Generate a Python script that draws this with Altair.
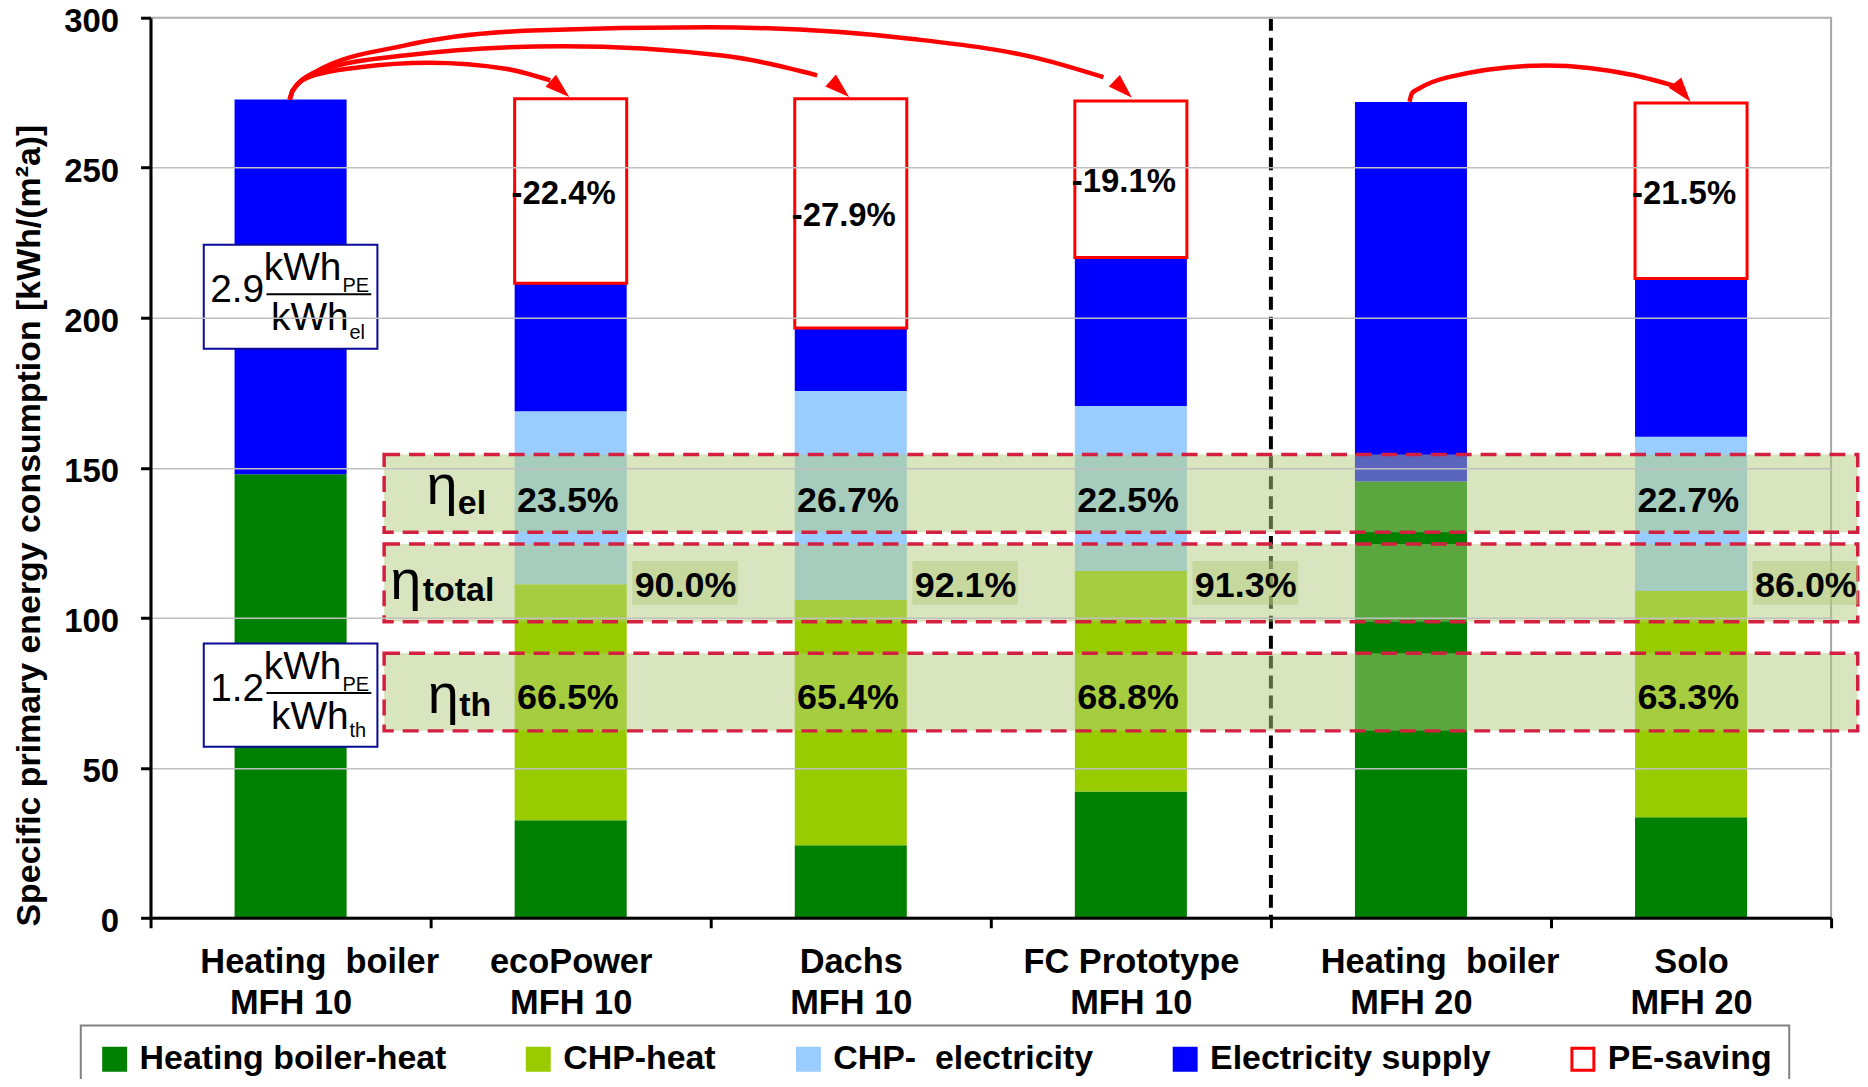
import json
import altair as alt
import pandas as pd

FONT = "Liberation Sans"
NB = "\u00a0"
ZW = "\u200b"

# ------------------------------------------------------------------ data
cat_line1 = [ZW + NB * 6 + "Heating" + NB * 2 + "boiler", "ecoPower", "Dachs", "FC Prototype",
             ZW + NB * 6 + "Heating" + NB * 2 + "boiler", "Solo"]
cat_line2 = ["MFH 10", "MFH 10", "MFH 10", "MFH 10", "MFH 20", "MFH 20"]

components = ["Heating boiler-heat", "CHP-heat", "CHP- electricity", "Electricity supply", "PE-saving"]
boiler_heat = [147.8, 32.5, 24.2, 42.1, 145.4, 33.5]
chp_heat = [0.0, 78.7, 81.7, 73.5, 0.0, 75.4]
chp_el = [0.0, 57.6, 69.7, 55.0, 0.0, 51.4]
elec_supply = [124.9, 42.7, 21.0, 49.5, 126.5, 52.8]
pe_saving = [0.0, 61.5, 76.4, 52.1, 0.0, 58.5]

pe_text = ["", "-22.4%", "-27.9%", "-19.1%", "", "-21.5%"]
eta_el_text = ["", "23.5%", "26.7%", "22.5%", "", "22.7%"]
eta_total_text = ["", "90.0%", "92.1%", "91.3%", "", "86.0%"]
eta_th_text = ["", "66.5%", "65.4%", "68.8%", "", "63.3%"]

eta_sub = ["el", "total", "th"]
eta_low = [128.5, 98.7, 62.3]
eta_high = [154.4, 124.6, 88.2]
eta_sym_x = [0.985, 0.856, 0.99]
eta_sym_y = [137.8, 106.4, 68.3]
eta_sub_x = [1.097, 0.972, 1.102]
eta_sub_y = [134.5, 105.6, 67.2]

factor_text = ["2.9", "1.2"]
factor_sub = ["el", "th"]
factor_top = [224.3, 91.4]
factor_bottom = [189.7, 57.0]

separator_at = [4]

# arrows (curve points, tip separately)
arrow_pts = {
    "a1": [(0.497, 272.7), (0.508, 275.8), (0.565, 280.2), (0.747, 283.5), (0.996, 285.0),
           (1.268, 283.0), (1.427, 279.1)],
    "a2": [(0.497, 272.7), (0.508, 275.8), (0.610, 282.5), (0.905, 287.4), (1.473, 290.5),
           (2.040, 287.4), (2.380, 280.8)],
    "a3": [(0.497, 272.7), (0.508, 275.8), (0.588, 281.9), (0.905, 290.7), (1.359, 295.7),
           (1.995, 296.8), (2.721, 292.9), (3.176, 286.3), (3.402, 280.2)],
    "a5": [(4.495, 272.0), (4.503, 274.7), (4.529, 276.4), (4.634, 280.2), (4.983, 284.1),
           (5.297, 280.8), (5.454, 276.9)],
}
arrow_tip_x = [1.495, 2.494, 3.504, 5.498]
arrow_tip_y = [273.6, 273.6, 273.3, 272.0]
arrow_tip_angle = [311, 311.5, 314, 321]

fills = ["#008000", "#99CC00", "#99CCFF", "#0000FF", "#FFFFFF"]
strokes = ["#008000", "#99CC00", "#99CCFF", "#0000FF", "#FF0000"]

# ------------------------------------------------------------------ tables
BAR = 0.4
series = [boiler_heat, chp_heat, chp_el, elec_supply, pe_saving]
rows = []
for i in range(len(cat_line1)):
    base = 0.0
    for k, comp in enumerate(components):
        v = series[k][i]
        if v > 0:
            rows.append(dict(component=comp, x0=i + 0.5 - BAR / 2, x1=i + 0.5 + BAR / 2,
                             y0=base, y1=base + v))
            base += v
bars_df = pd.DataFrame(rows)

totals = [sum(s[i] for s in series) for i in range(len(cat_line1))]
pe_df = pd.DataFrame(dict(x=[i + 0.475 for i in range(6)],
                          y=[totals[i] - pe_saving[i] / 2 - 1 for i in range(6)],
                          t=pe_text))
pe_df = pe_df[pe_df.t != ""]

band_df = pd.DataFrame(dict(xa=[0.834] * 3, xb=[6.095] * 3, lo=eta_low, hi=eta_high))

el_df = pd.DataFrame(dict(x=[i + 0.49 for i in range(6)], y=[135.3] * 6, t=eta_el_text))
th_df = pd.DataFrame(dict(x=[i + 0.49 for i in range(6)], y=[69.5] * 6, t=eta_th_text))
tot_df = pd.DataFrame(dict(x=[i + 0.91 for i in range(6)], y=[107.0] * 6, t=eta_total_text,
                           xa=[i + 0.72 for i in range(6)], xb=[i + 1.097 for i in range(6)],
                           lo=[104.3] * 6, hi=[118.9] * 6))
el_df = el_df[el_df.t != ""]
th_df = th_df[th_df.t != ""]
tot_df = tot_df[tot_df.t != ""]

eta_sym_df = pd.DataFrame(dict(x=eta_sym_x, y=eta_sym_y, t=["η"] * 3))
eta_sub_df = pd.DataFrame(dict(x=eta_sub_x, y=eta_sub_y, t=eta_sub))

fbox_df = pd.DataFrame(dict(xa=[0.19] * 2, xb=[0.81] * 2, lo=factor_bottom, hi=factor_top))
f_big = pd.DataFrame(dict(
    x=[0.213, 0.213, 0.404, 0.404, 0.43, 0.43],
    y=[factor_top[0] - 19.1, factor_top[1] - 19.1,
       factor_top[0] - 11.7, factor_top[1] - 11.7,
       factor_top[0] - 28.5, factor_top[1] - 28.5],
    t=[factor_text[0], factor_text[1], "kWh", "kWh", "kWh", "kWh"]))
f_small = pd.DataFrame(dict(
    x=[0.685, 0.685, 0.71, 0.71],
    y=[factor_top[0] - 15.8, factor_top[1] - 15.8, factor_top[0] - 31.3, factor_top[1] - 31.3],
    t=["PE", "PE", factor_sub[0], factor_sub[1]]))
f_line = pd.DataFrame(dict(xa=[0.414] * 2, xb=[0.788] * 2,
                           y=[factor_top[0] - 16.5, factor_top[1] - 16.5]))

sep_df = pd.DataFrame(dict(x=separator_at))

arow = []
for aid, pts in arrow_pts.items():
    for j, (px, py) in enumerate(pts):
        arow.append(dict(a=aid, o=j, x=px, y=py))
arrow_df = pd.DataFrame(arow)
tip_df = pd.DataFrame(dict(x=arrow_tip_x, y=arrow_tip_y, ang=arrow_tip_angle))

# ------------------------------------------------------------------ scales / axes
xs = alt.Scale(domain=[0, 6], nice=False, zero=False)
ys = alt.Scale(domain=[0, 300], nice=False, zero=True)

label_lines = [[a, b] for a, b in zip(cat_line1, cat_line2)] + [[""]]
label_expr = json.dumps(label_lines, ensure_ascii=False) + "[datum.value]"

x_axis = alt.Axis(values=[0, 1, 2, 3, 4, 5, 6], title=None, grid=False,
                  domainColor="black", domainWidth=3, tickColor="black", tickWidth=3,
                  tickSize=10, labelOffset=140.5, labelFlush=False, labelOverlap=False,
                  labelLimit=0,
                  labelExpr=label_expr, labelFont=FONT, labelFontSize=34.5,
                  labelFontWeight="bold", labelColor="black", labelPadding=18,
                  labelLineHeight=41, labelAlign="center", labelBaseline="top", zindex=1)
y_axis = alt.Axis(values=[0, 50, 100, 150, 200, 250, 300],
                  title="Specific primary energy consumption [kWh/(m²a)]",
                  grid=True, gridColor="#C0C0C0", gridWidth=1.5,
                  domainColor="black", domainWidth=3, tickColor="black", tickWidth=3,
                  tickSize=10, labelFont=FONT, labelFontSize=33, labelFontWeight="bold",
                  labelColor="black", labelPadding=22, labelOffset=3.5,
                  titleFont=FONT, titleFontSize=34, titleFontWeight="bold", titleColor="black",
                  titleX=-121, titleY=509, titleAngle=270, titleAlign="center",
                  titleBaseline="middle", zindex=1)


def X(f):
    return alt.X(f"{f}:Q", scale=xs, axis=x_axis)


def Y(f):
    return alt.Y(f"{f}:Q", scale=ys, axis=y_axis)


legend = alt.Legend(title=None, orient="none", legendX=-70, legendY=1011,
                    direction="horizontal", columns=5, columnPadding=75,
                    symbolType="square", symbolSize=484, symbolStrokeWidth=3,
                    labelFont=FONT, labelFontSize=34, labelFontWeight="bold",
                    labelColor="black", labelOffset=8, labelLimit=0, padding=17,
                    labelExpr="replace(datum.label, '- ', '-" + NB * 2 + "')",
                    strokeColor="#808080", fillColor="white")

bars = alt.Chart(bars_df).mark_rect().encode(
    x=X("x0"), x2="x1", y=Y("y0"), y2="y1",
    fill=alt.Fill("component:N", scale=alt.Scale(domain=components, range=fills), legend=legend),
    stroke=alt.Stroke("component:N", scale=alt.Scale(domain=components, range=strokes), legend=legend),
    strokeWidth=alt.condition(alt.datum.component == "PE-saving", alt.value(3), alt.value(0)),
)

sep = alt.Chart(sep_df).mark_rule(color="black", strokeWidth=4, strokeDash=[13, 7]).encode(x=X("x"))

bands = alt.Chart(band_df).mark_rect(fill="#B4CC7E", fillOpacity=0.5, stroke="#D42040",
                                     strokeWidth=3.5, strokeDash=[16, 9], clip=False).encode(
    x=X("xa"), x2="xb", y=Y("lo"), y2="hi")

tot_bg = alt.Chart(tot_df).mark_rect(fill="#B4CC7E", fillOpacity=0.5, clip=False).encode(
    x=X("xa"), x2="xb", y=Y("lo"), y2="hi")


def text_layer(df, size, weight="bold", align="center", baseline="alphabetic"):
    return alt.Chart(df).mark_text(font=FONT, fontSize=size, fontWeight=weight, align=align,
                                   baseline=baseline, color="black", clip=False).encode(
        x=X("x"), y=Y("y"), text="t:N")


pe_lbl = text_layer(pe_df, 33, baseline="middle")
el_lbl = text_layer(el_df, 36)
th_lbl = text_layer(th_df, 36)
tot_lbl = text_layer(tot_df, 36)
eta_sym = text_layer(eta_sym_df, 56, weight="normal", align="left")
eta_subl = text_layer(eta_sub_df, 34, align="left")

fbox = alt.Chart(fbox_df).mark_rect(fill="white", stroke="#0A0A96", strokeWidth=2).encode(
    x=X("xa"), x2="xb", y=Y("lo"), y2="hi")
fbig = text_layer(f_big, 39, weight="normal", align="left")
fsmall = text_layer(f_small, 20, weight="normal", align="left")
fline = alt.Chart(f_line).mark_rule(color="black", strokeWidth=2).encode(
    x=X("xa"), x2="xb", y=Y("y"))

arrow_lines = alt.Chart(arrow_df).mark_line(color="#FF0000", strokeWidth=4.5,
                                            interpolate="monotone", clip=False).encode(
    x=X("x"), y=Y("y"), detail="a:N", order="o:Q")
arrow_heads = alt.Chart(tip_df).mark_point(shape="M0,0L-0.75,-2.3L0.75,-2.3Z", filled=True,
                                           color="#FF0000", size=460, opacity=1,
                                           strokeWidth=0).encode(
    x=X("x"), y=Y("y"), angle=alt.Angle("ang:Q", scale=None))

chart = alt.layer(
    bars, sep, bands, tot_bg, fbox, fline, fbig, fsmall,
    pe_lbl, el_lbl, th_lbl, tot_lbl, eta_sym, eta_subl, arrow_lines, arrow_heads
).properties(
    width=1686, height=903,
    autosize=alt.AutoSizeParams(type="none"),
    padding={"left": 143, "top": 8, "right": 29, "bottom": 160},
).configure_view(stroke="#A6A6A6", strokeWidth=2).configure_legend(strokeWidth=2)

chart.save("out.html", embed_options={"renderer": "svg", "actions": False})
